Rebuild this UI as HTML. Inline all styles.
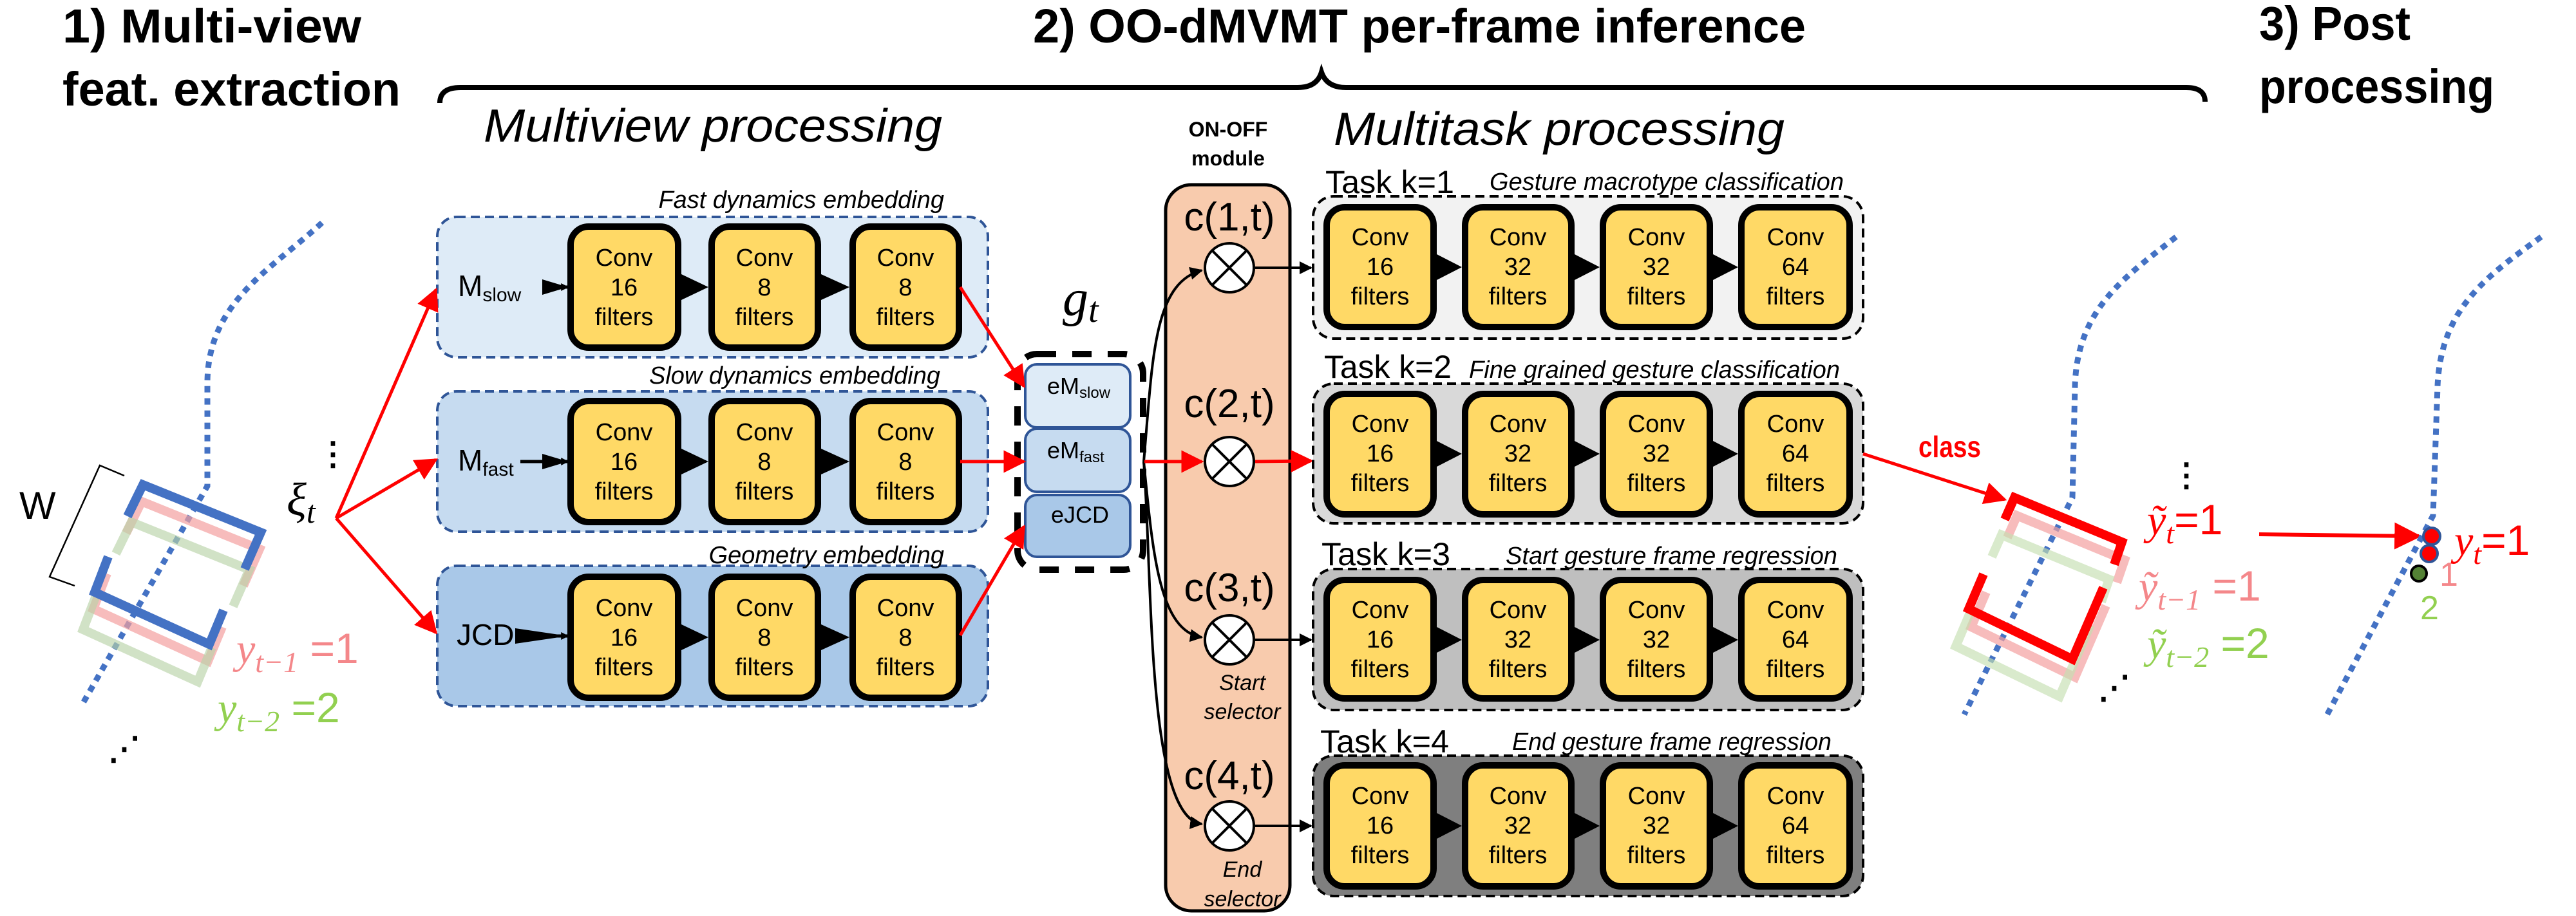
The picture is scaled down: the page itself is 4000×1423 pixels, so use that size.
<!DOCTYPE html>
<html><head><meta charset="utf-8"><style>
html,body{margin:0;padding:0;background:#fff}
svg{display:block}
text{font-family:"Liberation Sans Narrow","Liberation Sans",sans-serif}
.b{font-weight:bold}
.i{font-style:italic}
.s{font-family:"Liberation Serif",serif;font-style:italic}
.cv{font-size:38px;text-anchor:middle}
</style></head><body>
<svg width="4000" height="1423" viewBox="0 0 4000 1423" xmlns="http://www.w3.org/2000/svg">
<defs>
<marker id="ab" viewBox="0 0 10 10" refX="9" refY="5" markerWidth="5" markerHeight="5" orient="auto" markerUnits="strokeWidth"><path d="M0,0L10,5L0,10z" fill="#000"/></marker>
<marker id="ab2" viewBox="0 0 10 10" refX="9" refY="5" markerWidth="12" markerHeight="12" orient="auto" markerUnits="userSpaceOnUse"><path d="M0,0L10,5L0,10z" fill="#000"/></marker>
<marker id="ar" viewBox="0 0 10 10" refX="9" refY="5" markerWidth="7" markerHeight="7" orient="auto" markerUnits="strokeWidth"><path d="M0,0L10,5L0,10z" fill="#f00"/></marker>
</defs>

<!-- titles -->
<text x="97" y="66" class="b" font-size="74" textLength="464" lengthAdjust="spacingAndGlyphs">1) Multi-view</text>
<text x="97" y="164" class="b" font-size="74" textLength="525" lengthAdjust="spacingAndGlyphs">feat. extraction</text>
<text x="1604" y="66" class="b" font-size="74" textLength="1200" lengthAdjust="spacingAndGlyphs">2) OO-dMVMT per-frame inference</text>
<text x="3508" y="62" class="b" font-size="74" textLength="235" lengthAdjust="spacingAndGlyphs">3) Post</text>
<text x="3508" y="160" class="b" font-size="74" textLength="365" lengthAdjust="spacingAndGlyphs">processing</text>
<path d="M683,160 Q683,136 715,136 L2015,136 Q2045,136 2052,112 Q2060,136 2090,136 L3395,136 Q3424,136 3424,158" fill="none" stroke="#000" stroke-width="8"/>
<text x="751" y="220" class="i" font-size="72" textLength="712" lengthAdjust="spacingAndGlyphs">Multiview processing</text>
<text x="2071" y="225" class="i" font-size="72" textLength="700" lengthAdjust="spacingAndGlyphs">Multitask processing</text>
<text x="1907" y="212" class="b" font-size="32" text-anchor="middle">ON-OFF</text>
<text x="1907" y="257" class="b" font-size="32" text-anchor="middle">module</text>

<!-- multiview boxes -->
<rect x="679" y="337" width="855" height="218" rx="30" fill="#deebf7" stroke="#2f5597" stroke-width="4" stroke-dasharray="14 8"/>
<rect x="679" y="608" width="855" height="218" rx="30" fill="#c6dbf0" stroke="#2f5597" stroke-width="4" stroke-dasharray="14 8"/>
<rect x="679" y="879" width="855" height="218" rx="30" fill="#a9c8e8" stroke="#2f5597" stroke-width="4" stroke-dasharray="14 8"/>
<text x="1466" y="323" class="i" font-size="38" text-anchor="end">Fast dynamics embedding</text>
<text x="1460" y="596" class="i" font-size="38" text-anchor="end">Slow dynamics embedding</text>
<text x="1466" y="875" class="i" font-size="38" text-anchor="end">Geometry embedding</text>
<text x="711" y="460" font-size="46">M<tspan font-size="30" dy="8">slow</tspan></text>
<text x="711" y="731" font-size="46">M<tspan font-size="30" dy="8">fast</tspan></text>
<text x="709" y="1002" font-size="46">JCD</text>
<line x1="842" y1="446" x2="882" y2="446" stroke="#000" stroke-width="5" marker-end="url(#ab2)"/>
<line x1="808" y1="717" x2="882" y2="717" stroke="#000" stroke-width="5" marker-end="url(#ab2)"/>
<line x1="800" y1="988" x2="882" y2="988" stroke="#000" stroke-width="5" marker-end="url(#ab2)"/>
<path d="M842,434 L882,446 L842,458z M842,705 L882,717 L842,729z M800,976 L882,988 L800,1000z" fill="#000"/>

<g stroke="#000" stroke-width="10" fill="#ffd966">
<rect x="886" y="352" width="167" height="188" rx="28"/><rect x="1105" y="352" width="165" height="188" rx="28"/><rect x="1324" y="352" width="165" height="188" rx="28"/>
<rect x="886" y="623" width="167" height="188" rx="28"/><rect x="1105" y="623" width="165" height="188" rx="28"/><rect x="1324" y="623" width="165" height="188" rx="28"/>
<rect x="886" y="896" width="167" height="188" rx="28"/><rect x="1105" y="896" width="165" height="188" rx="28"/><rect x="1324" y="896" width="165" height="188" rx="28"/>
</g>
<path d="M1058,426 L1100,446 L1058,466z M1275,426 L1319,446 L1275,466z M1058,697 L1100,717 L1058,737z M1275,697 L1319,717 L1275,737z M1058,970 L1100,990 L1058,1010z M1275,970 L1319,990 L1275,1010z" fill="#000"/>
<g>
<text x="969" y="413" class="cv">Conv</text><text x="969" y="459" class="cv">16</text><text x="969" y="505" class="cv">filters</text>
<text x="1187" y="413" class="cv">Conv</text><text x="1187" y="459" class="cv">8</text><text x="1187" y="505" class="cv">filters</text>
<text x="1406" y="413" class="cv">Conv</text><text x="1406" y="459" class="cv">8</text><text x="1406" y="505" class="cv">filters</text>
<text x="969" y="684" class="cv">Conv</text><text x="969" y="730" class="cv">16</text><text x="969" y="776" class="cv">filters</text>
<text x="1187" y="684" class="cv">Conv</text><text x="1187" y="730" class="cv">8</text><text x="1187" y="776" class="cv">filters</text>
<text x="1406" y="684" class="cv">Conv</text><text x="1406" y="730" class="cv">8</text><text x="1406" y="776" class="cv">filters</text>
<text x="969" y="957" class="cv">Conv</text><text x="969" y="1003" class="cv">16</text><text x="969" y="1049" class="cv">filters</text>
<text x="1187" y="957" class="cv">Conv</text><text x="1187" y="1003" class="cv">8</text><text x="1187" y="1049" class="cv">filters</text>
<text x="1406" y="957" class="cv">Conv</text><text x="1406" y="1003" class="cv">8</text><text x="1406" y="1049" class="cv">filters</text>
</g>

<!-- g_t -->
<text x="1650" y="490" class="s" font-size="80">g<tspan font-size="56" dy="10">t</tspan></text>
<rect x="1592" y="566" width="163" height="98" rx="18" fill="#deebf7" stroke="#2f5597" stroke-width="4"/>
<rect x="1592" y="666" width="163" height="98" rx="18" fill="#c6dbf0" stroke="#2f5597" stroke-width="4"/>
<rect x="1592" y="769" width="163" height="96" rx="18" fill="#a9c8e8" stroke="#2f5597" stroke-width="4"/>
<rect x="1580" y="550" width="195" height="335" rx="30" fill="none" stroke="#000" stroke-width="10" stroke-dasharray="30 25"/>
<text x="1626" y="612" font-size="36">eM<tspan font-size="24" dy="6">slow</tspan></text>
<text x="1626" y="712" font-size="36">eM<tspan font-size="24" dy="6">fast</tspan></text>
<text x="1677" y="812" font-size="36" text-anchor="middle">eJCD</text>

<g stroke="#f00" stroke-width="5" fill="none">
<line x1="1491" y1="446" x2="1590" y2="600" marker-end="url(#ar)"/>
<line x1="1491" y1="717" x2="1590" y2="717" marker-end="url(#ar)"/>
<line x1="1491" y1="987" x2="1590" y2="818" marker-end="url(#ar)"/>
</g>

<!-- xi and red fan -->
<text x="445" y="800" class="s" font-size="72">ξ<tspan font-size="50" dy="12">t</tspan></text>
<text x="492" y="722" font-size="50" class="b">⋮</text>
<g stroke="#f00" stroke-width="5" fill="none">
<line x1="522" y1="805" x2="677" y2="450" marker-end="url(#ar)"/>
<line x1="522" y1="805" x2="677" y2="714" marker-end="url(#ar)"/>
<line x1="522" y1="805" x2="677" y2="983" marker-end="url(#ar)"/>
</g>

<!-- left trajectory -->
<path d="M500,346 C420,420 320,470 322,600 L322,755 L129,1092" fill="none" stroke="#4472c4" stroke-width="9" stroke-dasharray="10 9"/>
<g fill="none" stroke-width="14" stroke-linecap="butt">
<g stroke="#f4a0a0" opacity="0.7" transform="translate(-2,26)">
<polyline points="198,802 222,753 405,827 380,884"/><polyline points="347,948 325,1001 147,920 168,865"/></g>
<g stroke="#b9d3a8" opacity="0.65" transform="translate(-18,58)">
<polyline points="198,802 222,753 405,827 380,884"/><polyline points="347,948 325,1001 147,920 168,865"/></g>
<g stroke="#4472c4">
<polyline points="198,802 222,753 405,827 380,884"/><polyline points="347,948 325,1001 147,920 168,865"/></g>
</g>
<polyline points="193,739 155,723 77,896 116,910" fill="none" stroke="#000" stroke-width="2.5"/>
<text x="30" y="806" font-size="60">W</text>
<text x="367" y="1030" class="s" font-size="66" fill="#f4878a">y<tspan font-size="46" dy="14">t−1</tspan><tspan dy="-14" font-family="Liberation Sans Narrow,Liberation Sans,sans-serif" font-style="normal"> =1</tspan></text>
<text x="338" y="1122" class="s" font-size="66" fill="#92d050">y<tspan font-size="46" dy="14">t−2</tspan><tspan dy="-14" font-family="Liberation Sans Narrow,Liberation Sans,sans-serif" font-style="normal"> =2</tspan></text>
<text x="168" y="1180" font-size="50" class="b">⋰</text>

<!-- ON-OFF -->
<rect x="1810" y="287" width="193" height="1128" rx="40" fill="#f8cbad" stroke="#000" stroke-width="5"/>
<g font-size="62" text-anchor="middle">
<text x="1909" y="358">c(1,t)</text><text x="1909" y="648">c(2,t)</text><text x="1909" y="934">c(3,t)</text><text x="1909" y="1226">c(4,t)</text>
</g>
<g class="i" font-size="34" text-anchor="middle">
<text x="1929" y="1072">Start</text><text x="1929" y="1117">selector</text>
<text x="1929" y="1362">End</text><text x="1929" y="1408">selector</text>
</g>
<g fill="none" stroke="#000" stroke-width="4">
<path d="M1776,717 C1790,560 1790,440 1866,420" marker-end="url(#ab)"/>
<path d="M1776,717 C1790,860 1800,980 1866,990" marker-end="url(#ab)"/>
<path d="M1776,717 C1790,900 1780,1270 1866,1280" marker-end="url(#ab)"/>
<line x1="1949" y1="416" x2="2036" y2="416" marker-end="url(#ab)"/>
<line x1="1949" y1="994" x2="2036" y2="994" marker-end="url(#ab)"/>
<line x1="1949" y1="1283" x2="2036" y2="1283" marker-end="url(#ab)"/>
</g>
<g stroke="#f00" stroke-width="5" fill="none">
<line x1="1777" y1="717" x2="1866" y2="717" marker-end="url(#ar)"/>
<line x1="1949" y1="717" x2="2036" y2="716" marker-end="url(#ar)"/>
</g>
<g fill="#fff" stroke="#000" stroke-width="4">
<circle cx="1909" cy="416" r="38"/><circle cx="1909" cy="717" r="38"/><circle cx="1909" cy="994" r="38"/><circle cx="1909" cy="1283" r="38"/>
</g>
<g stroke="#000" stroke-width="4">
<path d="M1882,389 L1936,443 M1936,389 L1882,443"/>
<path d="M1882,690 L1936,744 M1936,690 L1882,744"/>
<path d="M1882,967 L1936,1021 M1936,967 L1882,1021"/>
<path d="M1882,1256 L1936,1310 M1936,1256 L1882,1310"/>
</g>

<!-- tasks -->
<rect x="2039" y="305" width="854" height="221" rx="32" fill="#f2f2f2" stroke="#000" stroke-width="4" stroke-dasharray="14 8"/>
<rect x="2039" y="596" width="854" height="217" rx="32" fill="#d9d9d9" stroke="#000" stroke-width="4" stroke-dasharray="14 8"/>
<rect x="2039" y="884" width="854" height="219" rx="32" fill="#bfbfbf" stroke="#000" stroke-width="4" stroke-dasharray="14 8"/>
<rect x="2039" y="1174" width="854" height="218" rx="32" fill="#7f7f7f" stroke="#000" stroke-width="4" stroke-dasharray="14 8"/>
<g font-size="50">
<text x="2058" y="300" textLength="200" lengthAdjust="spacingAndGlyphs">Task k=1</text>
<text x="2056" y="587" textLength="198" lengthAdjust="spacingAndGlyphs">Task k=2</text>
<text x="2052" y="878" textLength="200" lengthAdjust="spacingAndGlyphs">Task k=3</text>
<text x="2050" y="1169" textLength="200" lengthAdjust="spacingAndGlyphs">Task k=4</text>
</g>
<g class="i" font-size="38">
<text x="2313" y="295" textLength="550" lengthAdjust="spacingAndGlyphs">Gesture macrotype classification</text>
<text x="2281" y="587" textLength="576" lengthAdjust="spacingAndGlyphs">Fine grained gesture classification</text>
<text x="2338" y="876" textLength="515" lengthAdjust="spacingAndGlyphs">Start gesture frame regression</text>
<text x="2348" y="1165" textLength="496" lengthAdjust="spacingAndGlyphs">End gesture frame regression</text>
</g>
<g stroke="#000" stroke-width="10" fill="#ffd966">
<rect x="2060" y="322" width="166" height="186" rx="28"/><rect x="2275" y="322" width="165" height="186" rx="28"/><rect x="2489" y="322" width="166" height="186" rx="28"/><rect x="2704" y="322" width="168" height="186" rx="28"/>
<rect x="2060" y="612" width="166" height="187" rx="28"/><rect x="2275" y="612" width="165" height="187" rx="28"/><rect x="2489" y="612" width="166" height="187" rx="28"/><rect x="2704" y="612" width="168" height="187" rx="28"/>
<rect x="2060" y="901" width="166" height="184" rx="28"/><rect x="2275" y="901" width="165" height="184" rx="28"/><rect x="2489" y="901" width="166" height="184" rx="28"/><rect x="2704" y="901" width="168" height="184" rx="28"/>
<rect x="2060" y="1189" width="166" height="188" rx="28"/><rect x="2275" y="1189" width="165" height="188" rx="28"/><rect x="2489" y="1189" width="166" height="188" rx="28"/><rect x="2704" y="1189" width="168" height="188" rx="28"/>
</g>
<path d="M2231,395 L2270,415 L2231,435z M2445,395 L2484,415 L2445,435z M2660,395 L2699,415 L2660,435z
M2231,685 L2270,705 L2231,725z M2445,685 L2484,705 L2445,725z M2660,685 L2699,705 L2660,725z
M2231,974 L2270,994 L2231,1014z M2445,974 L2484,994 L2445,1014z M2660,974 L2699,994 L2660,1014z
M2231,1263 L2270,1283 L2231,1303z M2445,1263 L2484,1283 L2445,1303z M2660,1263 L2699,1283 L2660,1303z" fill="#000"/>
<g>
<text x="2143" y="381" class="cv">Conv</text><text x="2143" y="427" class="cv">16</text><text x="2143" y="473" class="cv">filters</text>
<text x="2357" y="381" class="cv">Conv</text><text x="2357" y="427" class="cv">32</text><text x="2357" y="473" class="cv">filters</text>
<text x="2572" y="381" class="cv">Conv</text><text x="2572" y="427" class="cv">32</text><text x="2572" y="473" class="cv">filters</text>
<text x="2788" y="381" class="cv">Conv</text><text x="2788" y="427" class="cv">64</text><text x="2788" y="473" class="cv">filters</text>
<text x="2143" y="671" class="cv">Conv</text><text x="2143" y="717" class="cv">16</text><text x="2143" y="763" class="cv">filters</text>
<text x="2357" y="671" class="cv">Conv</text><text x="2357" y="717" class="cv">32</text><text x="2357" y="763" class="cv">filters</text>
<text x="2572" y="671" class="cv">Conv</text><text x="2572" y="717" class="cv">32</text><text x="2572" y="763" class="cv">filters</text>
<text x="2788" y="671" class="cv">Conv</text><text x="2788" y="717" class="cv">64</text><text x="2788" y="763" class="cv">filters</text>
<text x="2143" y="960" class="cv">Conv</text><text x="2143" y="1006" class="cv">16</text><text x="2143" y="1052" class="cv">filters</text>
<text x="2357" y="960" class="cv">Conv</text><text x="2357" y="1006" class="cv">32</text><text x="2357" y="1052" class="cv">filters</text>
<text x="2572" y="960" class="cv">Conv</text><text x="2572" y="1006" class="cv">32</text><text x="2572" y="1052" class="cv">filters</text>
<text x="2788" y="960" class="cv">Conv</text><text x="2788" y="1006" class="cv">64</text><text x="2788" y="1052" class="cv">filters</text>
<text x="2143" y="1249" class="cv">Conv</text><text x="2143" y="1295" class="cv">16</text><text x="2143" y="1341" class="cv">filters</text>
<text x="2357" y="1249" class="cv">Conv</text><text x="2357" y="1295" class="cv">32</text><text x="2357" y="1341" class="cv">filters</text>
<text x="2572" y="1249" class="cv">Conv</text><text x="2572" y="1295" class="cv">32</text><text x="2572" y="1341" class="cv">filters</text>
<text x="2788" y="1249" class="cv">Conv</text><text x="2788" y="1295" class="cv">64</text><text x="2788" y="1341" class="cv">filters</text>
</g>

<!-- post processing -->
<text x="2979" y="710" class="b" font-size="46" fill="#f00" textLength="97" lengthAdjust="spacingAndGlyphs">class</text>
<line x1="2893" y1="705" x2="3113" y2="776" stroke="#f00" stroke-width="5" marker-end="url(#ar)"/>
<path d="M3379,368 C3300,430 3225,480 3222,600 L3218,773 L3050,1110" fill="none" stroke="#4472c4" stroke-width="9" stroke-dasharray="10 9"/>
<g fill="none" stroke-width="14">
<g stroke="#f4a0a0" opacity="0.7" transform="translate(4,28)">
<polyline points="3113,807 3128,773 3295,842 3283,877"/><polyline points="3266,913 3218,1024 3057,946 3080,892"/></g>
<g stroke="#c5deb0" opacity="0.65" transform="translate(-20,58)">
<polyline points="3113,807 3128,773 3295,842 3283,877"/><polyline points="3266,913 3218,1024 3057,946 3080,892"/></g>
<g stroke="#f00">
<polyline points="3113,807 3128,773 3295,842 3283,877"/><polyline points="3266,913 3218,1024 3057,946 3080,892"/></g>
</g>
<text x="3370" y="755" font-size="50" class="b">⋮</text>
<text x="3258" y="1085" font-size="50" class="b">⋰</text>
<text x="3334" y="830" class="s" font-size="66" fill="#f00">ỹ<tspan font-size="46" dy="14">t</tspan><tspan dy="-14" font-family="Liberation Sans Narrow,Liberation Sans,sans-serif" font-style="normal">=1</tspan></text>
<text x="3321" y="933" class="s" font-size="66" fill="#f4878a">ỹ<tspan font-size="46" dy="14">t−1</tspan><tspan dy="-14" font-family="Liberation Sans Narrow,Liberation Sans,sans-serif" font-style="normal"> =1</tspan></text>
<text x="3334" y="1022" class="s" font-size="66" fill="#92d050">ỹ<tspan font-size="46" dy="14">t−2</tspan><tspan dy="-14" font-family="Liberation Sans Narrow,Liberation Sans,sans-serif" font-style="normal"> =2</tspan></text>
<line x1="3508" y1="830" x2="3756" y2="833" stroke="#f00" stroke-width="6" marker-end="url(#ar)"/>
<path d="M3946,368 C3860,430 3790,480 3785,600 L3778,801 L3611,1115" fill="none" stroke="#4472c4" stroke-width="9" stroke-dasharray="10 9"/>
<circle cx="3776" cy="833" r="13" fill="#f00" stroke="#2f5597" stroke-width="4"/>
<circle cx="3772" cy="860" r="13" fill="#f00" stroke="#2f5597" stroke-width="4"/>
<circle cx="3756" cy="891" r="12" fill="#548235" stroke="#000" stroke-width="4"/>
<text x="3811" y="862" class="s" font-size="66" fill="#f00">y<tspan font-size="46" dy="14">t</tspan><tspan dy="-14" font-family="Liberation Sans Narrow,Liberation Sans,sans-serif" font-style="normal">=1</tspan></text>
<text x="3788" y="910" font-size="52" fill="#f4878a">1</text>
<text x="3758" y="962" font-size="52" fill="#92d050">2</text>
</svg>
</body></html>
